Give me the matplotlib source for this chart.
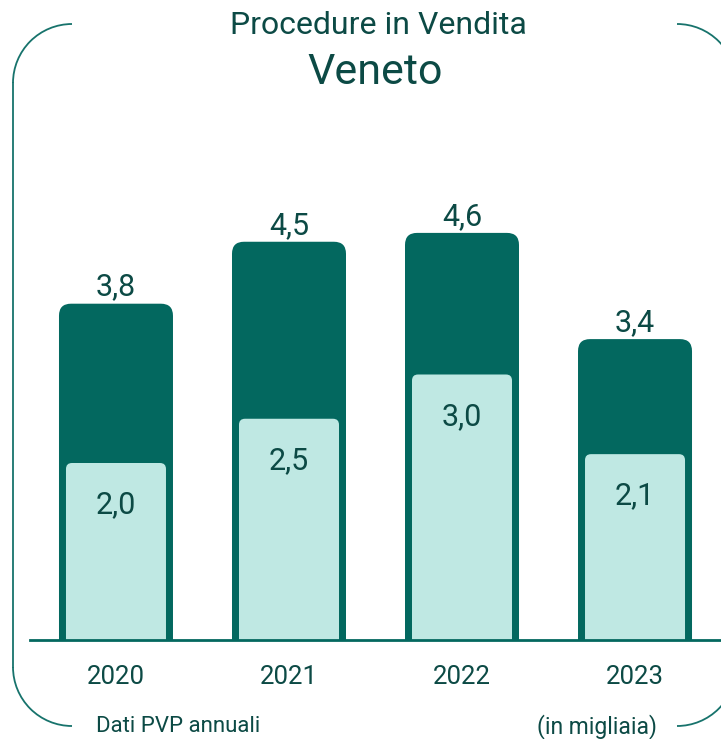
import matplotlib
matplotlib.use("Agg")
import matplotlib.pyplot as plt
from matplotlib.patches import FancyBboxPatch, Arc

# data (migliaia di procedure)
years = ["2020", "2021", "2022", "2023"]
totale = [3.8, 4.5, 4.6, 3.4]
quota = [2.0, 2.5, 3.0, 2.1]

dark = "#03685F"
light = "#BFE8E3"
text_col = "#0C4A45"
frame_col = "#17736C"

plt.rcParams["font.family"] = ["Roboto", "DejaVu Sans"]

W, H = 721, 739
fig = plt.figure(figsize=(W / 100, H / 100), dpi=100)

# frame + titles on a full-figure pixel axes
bg = fig.add_axes([0, 0, 1, 1])
bg.set_xlim(0, W)
bg.set_ylim(H, 0)
bg.axis("off")
r = 59
for cx, cy, t1, t2 in [(13 + r, 24 + r, 180, 270), (13 + r, 726 - r, 90, 180),
                       (736 - r, 24 + r, 270, 360), (736 - r, 726 - r, 0, 90)]:
    bg.add_patch(Arc((cx, cy), 2 * r, 2 * r, theta1=t1, theta2=t2,
                     color=frame_col, lw=1.3))
bg.plot([13, 13], [24 + r, 726 - r], color=frame_col, lw=1.3)

bg.text(378, 25, "Procedure in Vendita", ha="center", va="center",
        fontsize=23, color=text_col)
bg.text(375, 72, "Veneto", ha="center", va="center",
        fontsize=31, color=text_col)
bg.text(96, 727, "Dati PVP annuali", ha="left", va="center",
        fontsize=16, color=text_col)
bg.text(657, 727, "(in migliaia)", ha="right", va="center",
        fontsize=16.5, color=text_col)

# chart axes: baseline at y=640px, ~88.5 px per unit
ymax = 5.5
ax_h = 88.5 * ymax
ax = fig.add_axes([30 / W, (H - 640) / H, (W - 30) / W, ax_h / H])
ax.set_xlim(-0.497, 3.497)
ax.set_ylim(0, ymax)
ax.axis("off")

px_x = (3.497 + 0.497) / (W - 30)  # x units per pixel
px_y = ymax / ax_h                 # y units per pixel
aspect = px_y / px_x

w_dark = 114 * px_x
w_light = 100 * px_x

for i, (tot, q) in enumerate(zip(totale, quota)):
    b = FancyBboxPatch((i - w_dark / 2, -1), w_dark, tot + 1,
                       boxstyle="round,pad=0,rounding_size=%f" % (12 * px_x),
                       mutation_aspect=aspect, fc=dark, ec="none",
                       clip_on=True)
    ax.add_patch(b)
    b2 = FancyBboxPatch((i - w_light / 2, -1), w_light, q + 1,
                        boxstyle="round,pad=0,rounding_size=%f" % (6 * px_x),
                        mutation_aspect=aspect, fc=light, ec="none",
                        clip_on=True)
    ax.add_patch(b2)
    ax.annotate(f"{tot:.1f}".replace(".", ","), (i, tot), xytext=(0, 1.5),
                textcoords="offset points", ha="center", va="bottom",
                fontsize=22, color=text_col)
    ax.annotate(f"{q:.1f}".replace(".", ","), (i, q), xytext=(0, -30),
                textcoords="offset points", ha="center", va="center",
                fontsize=22, color=text_col)
    ax.annotate(years[i], (i, 0), xytext=(0, -27), textcoords="offset points",
                ha="center", va="center", fontsize=18.5, color=text_col,
                annotation_clip=False)

ax.axhline(0, color=dark, lw=2, clip_on=False)

fig.savefig("out.png", dpi=100)
